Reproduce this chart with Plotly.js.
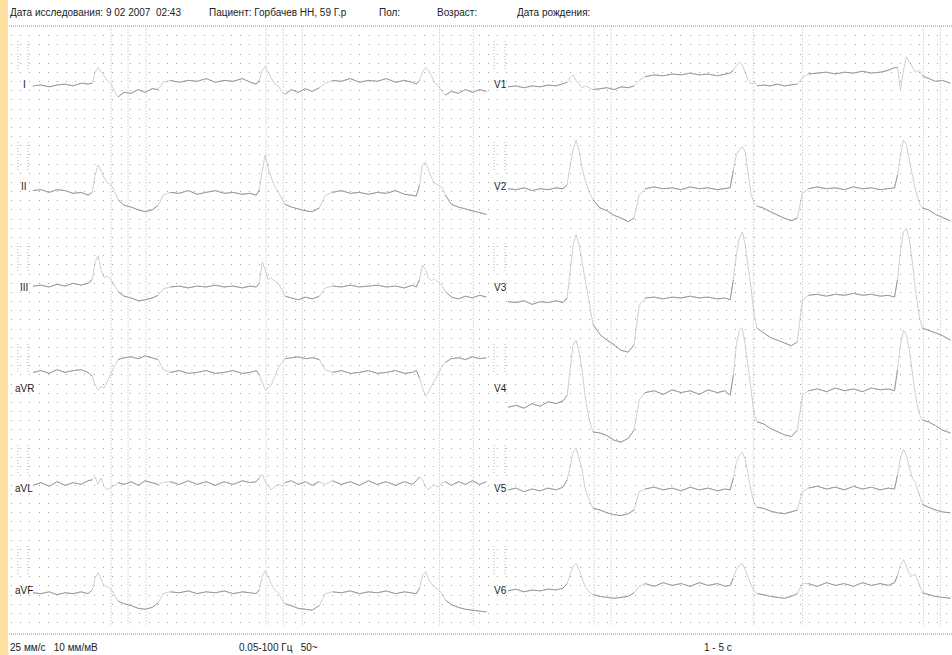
<!DOCTYPE html>
<html><head><meta charset="utf-8">
<script src="https://cdn.plot.ly/plotly-3.0.1.min.js"></script>
<style>html,body{margin:0;padding:0;background:#fff}#chart{width:952px;height:655px}</style>
</head><body><div id="chart"></div>
<script>
// ---------------- DATA (seconds, mV; 25 mm/s, 10 mm/mV) ----------------
const leadNamesLeft  = ['I', 'II', 'III', 'aVR', 'aVL', 'aVF'];
const leadNamesRight = ['V1', 'V2', 'V3', 'V4', 'V5', 'V6'];

const tLeft = [0,0.035,0.070,0.105,0.140,0.175,0.210,0.240,
  0.258,0.271,0.284,0.297,0.310,0.323,0.341,0.358,0.371,
  0.397,0.428,0.459,0.489,0.520,0.546,
  0.568,
  0.598,0.638,0.677,0.716,0.755,0.795,0.834,0.873,0.913,0.948,0.974,
  0.987,1.000,1.013,1.026,1.039,1.052,1.070,1.087,1.100,
  1.127,1.157,1.188,1.218,1.249,
  1.275,
  1.306,1.345,1.384,1.424,1.463,1.502,1.541,1.581,1.620,1.655,1.672,
  1.686,1.699,1.712,1.725,1.738,1.751,1.769,1.786,1.799,
  1.825,1.856,1.886,1.917,1.948,1.978];

const leadI = [-0.01,0,-0.02,0,0.01,-0.01,0.02,0.01,
  0.02,0.14,0.19,0.15,0.10,0.05,0.01,-0.08,-0.13,
  -0.08,-0.09,-0.05,-0.08,-0.04,-0.05,
  0.03,
  0.05,0.03,0.05,0.04,0.07,0.03,0.05,0.04,0.07,0.03,0.01,
  0.05,0.16,0.20,0.14,0.08,0.02,-0.01,-0.08,-0.10,
  -0.05,-0.08,-0.04,-0.07,-0.03,
  0.02,
  0.05,0.04,0.07,0.03,0.05,0.04,0.07,0.03,0.05,0.03,0.01,
  0.05,0.14,0.19,0.16,0.10,0.03,-0.01,-0.08,-0.11,
  -0.07,-0.09,-0.05,-0.08,-0.05,-0.07];

const leadII = [-0.05,-0.04,-0.07,-0.04,-0.05,-0.08,-0.07,-0.10,
  -0.07,0.12,0.23,0.17,0.09,0.04,0.01,-0.07,-0.15,
  -0.21,-0.23,-0.26,-0.28,-0.26,-0.21,
  -0.10,
  -0.07,-0.08,-0.05,-0.09,-0.07,-0.05,-0.08,-0.07,-0.09,-0.08,-0.10,
  -0.04,0.17,0.34,0.20,0.09,0.01,-0.07,-0.15,-0.20,
  -0.23,-0.25,-0.27,-0.28,-0.24,
  -0.10,
  -0.07,-0.05,-0.08,-0.07,-0.09,-0.07,-0.08,-0.05,-0.09,-0.10,-0.11,
  0.01,0.23,0.26,0.17,0.09,0.03,0.01,-0.02,-0.10,
  -0.20,-0.23,-0.25,-0.27,-0.29,-0.31];

const leadIII = [0.01,0.02,0,0.03,0.01,0.04,0.02,0.04,
  0.08,0.27,0.34,0.19,0.10,0.12,0.08,0,-0.05,
  -0.10,-0.12,-0.15,-0.14,-0.12,-0.09,
  -0.02,
  0,0.01,-0.01,0.01,0,0.02,0,0.01,-0.01,0.01,0,
  0.04,0.27,0.19,0.08,0.10,0.07,0.04,-0.05,-0.10,
  -0.12,-0.14,-0.11,-0.13,-0.10,
  -0.01,
  0.01,0,0.02,0,0.01,0.02,0,0.01,-0.01,0.02,0,
  0.08,0.24,0.19,0.10,0.07,0.09,0.05,0.01,-0.05,
  -0.11,-0.13,-0.10,-0.12,-0.09,-0.11];

const leadAVR = [0.17,0.19,0.16,0.20,0.17,0.19,0.20,0.17,
  0.13,0.03,-0.02,0.02,0,0.07,0.17,0.25,0.31,
  0.33,0.34,0.32,0.35,0.33,0.31,
  0.20,
  0.17,0.19,0.16,0.17,0.19,0.16,0.17,0.19,0.16,0.17,0.19,
  0.14,0.05,-0.02,0,0.03,0.11,0.22,0.28,0.32,
  0.33,0.34,0.32,0.33,0.31,
  0.20,
  0.17,0.19,0.16,0.17,0.19,0.16,0.17,0.19,0.16,0.17,0.19,
  0.11,0,-0.09,-0.04,0.02,0.09,0.17,0.24,0.28,
  0.32,0.33,0.31,0.34,0.32,0.33];

const leadAVL = [0.04,0.07,0.03,0.08,0.04,0.07,0.05,0.09,
  0.10,0.13,0.05,0.12,0.03,-0.01,0.02,0.04,0.07,
  0.05,0.08,0.04,0.09,0.07,0.05,
  0.07,
  0.08,0.05,0.09,0.05,0.08,0.04,0.08,0.05,0.09,0.07,0.08,
  0.12,0.16,0.08,0.03,-0.01,0.02,0.05,0.03,0.07,
  0.09,0.05,0.08,0.04,0.08,
  0.05,
  0.09,0.05,0.08,0.04,0.09,0.05,0.08,0.04,0.08,0.05,0.09,
  0.13,0.10,0.03,-0.01,0.03,0.05,0.02,0.07,0.08,
  0.04,0.08,0.05,0.09,0.05,0.08];

const leadAVF = [-0.03,-0.04,-0.02,-0.05,-0.03,-0.04,-0.02,-0.04,
  0,0.13,0.19,0.11,0.05,0.04,0.01,-0.07,-0.12,
  -0.15,-0.17,-0.20,-0.21,-0.19,-0.14,
  -0.04,
  -0.02,-0.03,-0.01,-0.04,-0.02,-0.03,-0.01,-0.04,-0.02,-0.03,-0.04,
  0,0.15,0.21,0.13,0.07,0.01,-0.03,-0.11,-0.15,
  -0.17,-0.20,-0.21,-0.22,-0.17,
  -0.04,
  -0.02,-0.03,-0.01,-0.04,-0.02,-0.03,-0.01,-0.04,-0.02,-0.03,-0.04,
  0.02,0.16,0.20,0.12,0.07,0.03,0,-0.04,-0.11,
  -0.16,-0.19,-0.21,-0.22,-0.23,-0.24];

const tRight = [0,0.035,0.070,0.105,0.140,0.175,0.210,0.240,
  0.258,0.271,0.284,0.297,0.310,0.323,0.336,0.354,0.371,
  0.402,0.432,0.463,0.493,0.524,0.550,
  0.572,
  0.598,0.638,0.677,0.716,0.755,0.795,0.834,0.873,0.913,0.948,0.969,
  0.983,0.996,1.009,1.022,1.035,1.048,1.061,1.074,1.087,
  1.114,1.144,1.175,1.205,1.236,1.262,
  1.284,
  1.310,1.349,1.389,1.428,1.467,1.507,1.546,1.585,1.624,1.659,1.686,
  1.699,1.712,1.725,1.738,1.751,1.764,1.777,1.795,1.808,
  1.834,1.865,1.895,1.930];

const leadV1 = [-0.02,-0.01,-0.03,-0.01,-0.02,0,-0.01,0.01,
  0.03,0.08,0.11,0.05,0.01,-0.03,-0.01,-0.03,-0.05,
  -0.04,-0.03,-0.05,-0.02,-0.03,-0.01,
  0.05,
  0.09,0.11,0.10,0.12,0.11,0.13,0.11,0.12,0.10,0.12,0.13,
  0.16,0.21,0.25,0.22,0.14,0.05,0.01,0.03,-0.01,
  0,-0.01,0.01,-0.01,0,0.01,
  0.08,
  0.12,0.13,0.14,0.12,0.14,0.13,0.15,0.13,0.14,0.16,0.19,
  0.19,-0.05,0.16,0.31,0.25,0.19,0.14,0.16,0.10,
  0.07,0.04,0.05,0.02];

const leadV2 = [-0.03,-0.04,-0.02,-0.05,-0.03,-0.04,-0.02,-0.03,
  0.01,0.23,0.39,0.50,0.39,0.20,0.07,-0.07,-0.15,
  -0.24,-0.27,-0.32,-0.35,-0.39,-0.35,
  -0.10,
  -0.03,-0.01,-0.03,-0.02,-0.04,-0.01,-0.03,-0.02,-0.04,-0.03,-0.02,
  0.17,0.34,0.39,0.43,0.37,0.12,-0.10,-0.19,-0.22,
  -0.24,-0.28,-0.32,-0.35,-0.38,-0.35,
  -0.08,
  -0.03,-0.01,-0.03,-0.02,-0.04,-0.01,-0.03,-0.02,-0.04,-0.03,-0.02,
  0.12,0.34,0.50,0.45,0.28,0.12,-0.04,-0.19,-0.24,
  -0.26,-0.31,-0.34,-0.38];

const leadV3 = [-0.16,-0.17,-0.15,-0.19,-0.16,-0.17,-0.15,-0.17,
  -0.12,0.19,0.46,0.57,0.46,0.27,0.08,-0.20,-0.41,
  -0.52,-0.58,-0.63,-0.69,-0.71,-0.63,
  -0.20,
  -0.12,-0.11,-0.13,-0.11,-0.12,-0.10,-0.12,-0.11,-0.13,-0.12,-0.14,
  0.08,0.35,0.53,0.60,0.46,0.24,-0.03,-0.31,-0.45,
  -0.50,-0.55,-0.58,-0.61,-0.64,-0.60,
  -0.14,
  -0.09,-0.08,-0.10,-0.08,-0.09,-0.07,-0.09,-0.08,-0.10,-0.09,-0.11,
  0.08,0.40,0.60,0.64,0.51,0.27,-0.03,-0.34,-0.45,
  -0.47,-0.50,-0.53,-0.58];

const leadV4 = [-0.21,-0.19,-0.22,-0.17,-0.20,-0.15,-0.17,-0.14,
  -0.08,0.20,0.47,0.52,0.39,0.20,-0.08,-0.35,-0.48,
  -0.49,-0.52,-0.57,-0.59,-0.55,-0.46,
  -0.13,
  -0.05,-0.03,-0.07,-0.02,-0.05,-0.03,-0.07,-0.02,-0.05,-0.03,-0.08,
  0.14,0.47,0.63,0.65,0.47,0.22,-0.08,-0.29,-0.37,
  -0.39,-0.44,-0.48,-0.51,-0.53,-0.46,
  -0.08,
  -0.03,-0.01,-0.04,0,-0.03,-0.01,-0.04,0,-0.02,-0.01,-0.03,
  0.20,0.47,0.63,0.58,0.41,0.17,-0.08,-0.29,-0.35,
  -0.37,-0.41,-0.46,-0.49];

const leadV5 = [-0.01,0.01,-0.03,0,-0.02,0.01,-0.01,0.02,
  0.10,0.26,0.40,0.45,0.34,0.21,0.01,-0.12,-0.21,
  -0.23,-0.26,-0.28,-0.29,-0.27,-0.23,
  -0.03,
  0,0.02,-0.01,0.01,-0.02,0.02,-0.01,0.01,-0.02,0,-0.01,
  0.12,0.29,0.37,0.40,0.32,0.15,-0.03,-0.15,-0.20,
  -0.21,-0.24,-0.26,-0.27,-0.25,-0.23,
  -0.03,
  0.01,0.03,0,0.02,-0.01,0.03,0,0.02,-0.01,0.01,0,
  0.15,0.34,0.43,0.37,0.23,0.12,0.07,-0.07,-0.17,
  -0.20,-0.23,-0.25,-0.26];

const leadV6 = [-0.01,0.01,-0.02,0,-0.01,0.01,0,0.02,
  0.07,0.16,0.26,0.29,0.22,0.13,0.04,-0.02,-0.05,
  -0.07,-0.08,-0.09,-0.08,-0.07,-0.03,
  0.04,
  0.07,0.04,0.08,0.05,0.07,0.04,0.08,0.05,0.07,0.04,0.05,
  0.13,0.22,0.27,0.29,0.22,0.13,0.05,-0.01,-0.04,
  -0.05,-0.07,-0.08,-0.09,-0.07,-0.04,
  0.07,
  0.07,0.04,0.08,0.05,0.07,0.04,0.08,0.05,0.07,0.05,0.08,
  0.16,0.27,0.33,0.26,0.17,0.16,0.17,0.05,-0.03,
  -0.05,-0.07,-0.08,-0.09];

const leadValuesLeft  = [leadI, leadII, leadIII, leadAVR, leadAVL, leadAVF];
const leadValuesRight = [leadV1, leadV2, leadV3, leadV4, leadV5, leadV6];

// fast-stroke sample index spans (QRS complexes and ST return), drawn faint
const fastSpansLeft  = [[8, 16], [22, 24], [35, 43], [48, 50], [61, 69]];
const fastSpansRight = [[8, 16], [22, 24], [35, 43], [49, 51], [62, 70]];

// measurement marker times (s) drawn as dotted vertical lines
const markerTimesLeft  = [0.341, 0.415, 0.493, 1.017, 1.092, 1.175, 1.773, 1.921];
const markerTimesRight = [0.376, 0.450, 1.070, 1.284, 1.812, 1.886];

const headerTexts = ['Дата исследования: 9 02 2007\u00a0\u00a002:43', 'Пациент: Горбачев НН, 59 Г.р', 'Пол:', 'Возраст:', 'Дата рождения:'];
const footerTexts = ['25 мм/с\u00a0\u00a0\u00a010 мм/мВ', '0.05-100 Гц\u00a0\u00a0\u00a050~', '1 - 5 с'];

// ---------------- LAYOUT ----------------
const W = 952, H = 655;
const PX_PER_S = 229.25, PX_PER_MV = 91.7;
const px = x => x / W;
const py = y => 1 - y / H;
const rowZeroPx = [85, 186, 287, 388, 489, 590];
const gridTop = 26.5, gridBottom = 626, gridLeft = 11, cell = 9.17;
const colLeft  = {x0: 0,   x1: 490, t0px: 33, calX: [18, 28]};
const colRight = {x0: 490, x1: 952, t0px: 508, calX: [494, 505]};
const FONT = '"Liberation Sans", Arial, sans-serif';
const slowColor = '#8a8a8a', fastColor = '#cacaca';

const layout = {
  width: W, height: H,
  margin: {l: 0, r: 0, t: 0, b: 0},
  paper_bgcolor: '#ffffff', plot_bgcolor: 'rgba(0,0,0,0)',
  showlegend: false,
  font: {family: FONT, size: 10, color: '#222'},
  xaxis: {domain: [px(colLeft.x0), px(colLeft.x1)], range: [(colLeft.x0 - colLeft.t0px) / PX_PER_S, (colLeft.x1 - colLeft.t0px) / PX_PER_S],
          visible: false, fixedrange: true},
  xaxis2: {domain: [px(colRight.x0), px(colRight.x1)], range: [(colRight.x0 - colRight.t0px) / PX_PER_S, (colRight.x1 - colRight.t0px) / PX_PER_S],
           visible: false, fixedrange: true},
  xaxis3: {domain: [px(gridLeft), 1], range: [0, (W - gridLeft) / cell], visible: false, fixedrange: true},
  yaxis13: {domain: [py(gridBottom), py(gridTop)], range: [(gridBottom - gridTop) / cell, 0], anchor: 'x3',
            showgrid: true, dtick: 1, tick0: 0, gridcolor: '#a2a2a2', gridwidth: 1, griddash: '1px,' + (cell - 1).toFixed(2) + 'px',
            zeroline: false, showticklabels: false, ticks: '', showline: false, fixedrange: true},
  shapes: [], annotations: []
};

for (let r = 0; r < 6; r++) {
  const z = rowZeroPx[r];
  const topPx = Math.max(gridTop, z - 100), botPx = Math.min(gridBottom + 8, z + 100);
  const range = [-(botPx - z) / PX_PER_MV, (z - topPx) / PX_PER_MV];
  layout['yaxis' + (r + 1)] = {domain: [py(botPx), py(topPx)], range: range, anchor: 'x', visible: false, fixedrange: true};
  layout['yaxis' + (r + 7)] = {domain: [py(botPx), py(topPx)], range: range, anchor: 'x2', visible: false, fixedrange: true};
}
layout.yaxis = layout.yaxis1; delete layout.yaxis1;

const data = [];
data.push({x: [0], y: [0], xaxis: 'x3', yaxis: 'y13', mode: 'markers', marker: {opacity: 0}, hoverinfo: 'skip'});

function addLead(t, vals, xa, ya, spans) {
  // faint full trace (fast strokes look faint on the original print)
  data.push({x: t, y: vals, xaxis: xa, yaxis: ya, mode: 'lines', line: {color: fastColor, width: 0.9}, hoverinfo: 'skip'});
  // darker slow segments: break the line inside each fast span
  const slow = vals.map((v, i) => spans.some(s => i > s[0] && i < s[1]) ? null : v);
  spans.forEach(s => { if (s[1] - s[0] === 1) slow[s[0]] = slow[s[0]]; });
  data.push({x: t, y: slow, xaxis: xa, yaxis: ya, mode: 'lines', connectgaps: false,
             line: {color: slowColor, width: 0.8}, hoverinfo: 'skip'});
}
leadValuesLeft.forEach((vals, r) => addLead(tLeft, vals, 'x', r === 0 ? 'y' : 'y' + (r + 1), fastSpansLeft));
leadValuesRight.forEach((vals, r) => addLead(tRight, vals, 'x2', 'y' + (r + 7), fastSpansRight));

// orange strip
layout.shapes.push({type: 'rect', xref: 'paper', yref: 'paper', x0: 0, x1: px(8), y0: 0, y1: 1, fillcolor: '#FFDF9F', line: {width: 0}, layer: 'below'});
// header / footer dense dotted lines
[26, 634].forEach(y => layout.shapes.push({type: 'line', xref: 'paper', yref: 'paper', x0: px(9), x1: 1, y0: py(y), y1: py(y),
  line: {color: '#8c8c8c', width: 1, dash: '1px,1px'}}));
// marker lines
const markerStyle = {color: '#b8b8b8', width: 1, dash: '1px,2px'};
markerTimesLeft.forEach(t => layout.shapes.push({type: 'line', xref: 'x', yref: 'paper', x0: t, x1: t, y0: py(gridTop), y1: py(gridBottom), line: markerStyle}));
markerTimesRight.forEach(t => layout.shapes.push({type: 'line', xref: 'x2', yref: 'paper', x0: t, x1: t, y0: py(gridTop), y1: py(gridBottom), line: markerStyle}));
// faint calibration pulse remnants
[colLeft, colRight].forEach(c => rowZeroPx.forEach(z => c.calX.forEach(x =>
  layout.shapes.push({type: 'line', xref: 'paper', yref: 'paper', x0: px(x), x1: px(x), y0: py(z - 44), y1: py(z - 14),
    line: {color: '#b8b8b8', width: 1, dash: '1px,2px'}}))));

// lead labels
const labelY = [84, 186, 287, 388, 489, 590];
leadNamesLeft.forEach((n, r) => layout.annotations.push({text: n, xref: 'paper', yref: 'paper', x: px(24), y: py(labelY[r]),
  xanchor: 'center', yanchor: 'middle', showarrow: false, font: {size: 10, color: '#222'}}));
leadNamesRight.forEach((n, r) => layout.annotations.push({text: n, xref: 'paper', yref: 'paper', x: px(500), y: py(labelY[r]),
  xanchor: 'center', yanchor: 'middle', showarrow: false, font: {size: 10, color: '#222'}}));

// header & footer
const headerX = [8, 207, 377, 435, 515];
headerTexts.forEach((t, i) => layout.annotations.push({text: t, xref: 'paper', yref: 'paper', x: px(headerX[i]), y: py(12),
  xanchor: 'left', yanchor: 'middle', showarrow: false, font: {size: 10, color: '#222'}}));
const footerX = [8, 237, 702];
footerTexts.forEach((t, i) => layout.annotations.push({text: t, xref: 'paper', yref: 'paper', x: px(footerX[i]), y: py(647),
  xanchor: 'left', yanchor: 'middle', showarrow: false, font: {size: 10, color: '#222'}}));

Plotly.newPlot('chart', data, layout, {staticPlot: true, displayModeBar: false});
</script>
</body></html>
